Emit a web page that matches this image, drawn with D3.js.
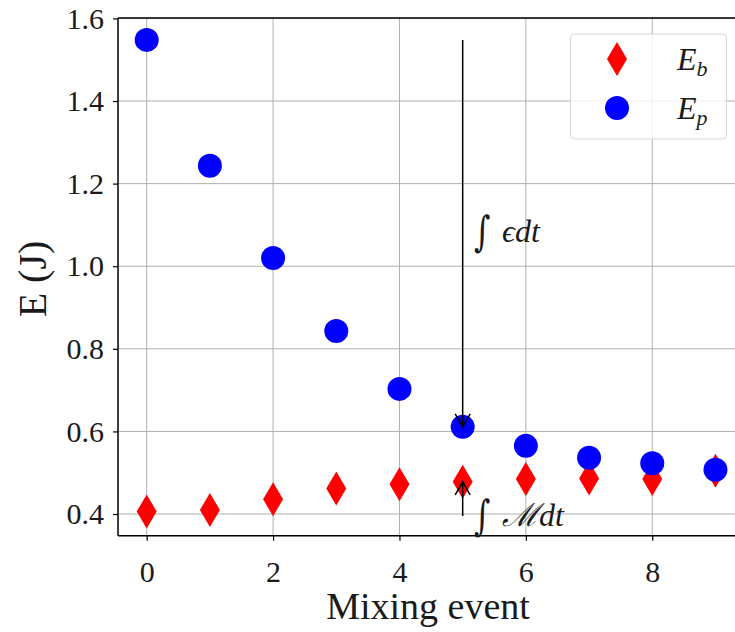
<!DOCTYPE html>
<html>
<head>
<meta charset="utf-8">
<script src="https://cdn.jsdelivr.net/npm/d3@7"></script>
<style>
  html, body { margin: 0; padding: 0; background: #fff; overflow: hidden; }
  svg { display: block; }
  text { font-family: "Liberation Serif", "DejaVu Serif", serif; fill: #1a1a1a; }
</style>
</head>
<body>
<svg id="chart" width="735" height="632"></svg>
<script>
// ---- data ----
const events = [0, 1, 2, 3, 4, 5, 6, 7, 8, 9];
const Eb = [0.406, 0.410, 0.436, 0.462, 0.472, 0.478, 0.485, 0.486, 0.485, 0.505];
const Ep = [1.548, 1.243, 1.020, 0.843, 0.703, 0.611, 0.565, 0.536, 0.523, 0.507];
const xTicks = [0, 2, 4, 6, 8];
const yTicks = [0.4, 0.6, 0.8, 1.0, 1.2, 1.4, 1.6];
const arrowEvent = 5;

// ---- layout ----
const plotL = 118, plotT = 18, plotB = 535.7, plotR = 743.9;
const svg = d3.select("#chart");

const x = d3.scaleLinear().domain([-0.454, 9.45]).range([plotL, plotR]);
const y = d3.scaleLinear().domain([0.3475, 1.601]).range([plotB, plotT]);

// grid
const grid = svg.append("g").attr("stroke", "#b0b0b0").attr("stroke-width", 1);
xTicks.forEach(t => grid.append("line")
  .attr("x1", x(t)).attr("x2", x(t)).attr("y1", plotT).attr("y2", plotB));
yTicks.forEach(t => grid.append("line")
  .attr("x1", plotL).attr("x2", plotR).attr("y1", y(t)).attr("y2", y(t)));

// axes
const xAxis = d3.axisBottom(x).tickValues(xTicks).tickSize(5).tickPadding(20)
  .tickFormat(d3.format("d"));
const yAxis = d3.axisLeft(y).tickValues(yTicks).tickSize(5).tickPadding(9)
  .tickFormat(d3.format(".1f"));

const gx = svg.append("g").attr("transform", `translate(0,${plotB})`).call(xAxis);
const gy = svg.append("g").attr("transform", `translate(${plotL},0)`).call(yAxis);
[gx, gy].forEach(g => {
  g.select(".domain").remove();
  g.selectAll(".tick line").attr("stroke", "#000").attr("stroke-width", 1.2);
  g.selectAll(".tick text").style("font-family", "Liberation Serif, serif")
    .style("font-size", "30px").attr("fill", "#2a2a2a");
});

// spines
const sp = svg.append("g").attr("stroke", "#000").attr("stroke-width", 1.5).attr("fill", "none");
sp.append("line").attr("x1", plotL).attr("x2", plotL).attr("y1", plotT).attr("y2", plotB);
sp.append("line").attr("x1", plotL).attr("x2", plotR).attr("y1", plotB).attr("y2", plotB);
sp.append("line").attr("x1", plotL).attr("x2", plotR).attr("y1", plotT).attr("y2", plotT);
sp.append("line").attr("x1", plotR).attr("x2", plotR).attr("y1", plotT).attr("y2", plotB);

// markers
const diamond = (cx, cy, hw, hh) =>
  `M${cx},${cy - hh}L${cx + hw},${cy}L${cx},${cy + hh}L${cx - hw},${cy}Z`;

svg.append("g").selectAll("path").data(events).join("path")
  .attr("d", (d, i) => diamond(x(d), y(Eb[i]), 10, 17))
  .attr("fill", "#ff0000");

svg.append("g").selectAll("circle").data(events).join("circle")
  .attr("cx", d => x(d)).attr("cy", (d, i) => y(Ep[i])).attr("r", 12)
  .attr("fill", "#0000ff");

// annotation arrows
function arrow(x0, y0, x1, y1) {
  const g = svg.append("g").attr("stroke", "#000").attr("stroke-width", 1.5).attr("fill", "none");
  g.append("line").attr("x1", x0).attr("y1", y0).attr("x2", x1).attr("y2", y1);
  const dir = Math.sign(y1 - y0);
  g.append("path").attr("d",
    `M${x1 - 7.5},${y1 - dir * 13}L${x1},${y1}L${x1 + 7.5},${y1 - dir * 13}`);
}
const ax = x(arrowEvent);
arrow(ax, y(Ep[0]), ax, y(Ep[arrowEvent]));
arrow(ax, y(0.395), ax, y(Eb[arrowEvent]));

// annotation texts
function mathLabel(x0, yb, body) {
  const g = svg.append("g");
  g.append("text").attr("x", x0).attr("y", yb + 4)
    .style("font-size", "42px").style("font-family", "DejaVu Serif, serif")
    .attr("transform", `translate(${x0},${yb}) scale(0.75,1) translate(${-x0},${-yb})`)
    .text("∫");
  g.append("text").attr("x", x0 + 28).attr("y", yb)
    .style("font-size", "32px").style("font-style", "italic").text(body);
}
mathLabel(474, 242, "ϵdt");
mathLabel(474, 526, "ℳdt");

// legend
const lg = svg.append("g");
lg.append("rect").attr("x", 570.5).attr("y", 34).attr("width", 156).attr("height", 105)
  .attr("rx", 4).attr("fill", "#fff").attr("fill-opacity", 0.8)
  .attr("stroke", "#d6d6d6").attr("stroke-width", 1);
lg.append("path").attr("d", diamond(617, 59, 10, 17)).attr("fill", "#ff0000");
lg.append("circle").attr("cx", 617).attr("cy", 108).attr("r", 12).attr("fill", "#0000ff");
const labels = [["b", 70], ["p", 119]];
labels.forEach(([s, yy]) => {
  const t = lg.append("text").attr("x", 677).attr("y", yy)
    .style("font-size", "32px").style("font-style", "italic");
  t.append("tspan").text("E");
  t.append("tspan").attr("dy", 6).style("font-size", "22px").text(s);
});

// axis titles
svg.append("text").attr("x", 428).attr("y", 619).attr("text-anchor", "middle")
  .style("font-size", "38px").text("Mixing event");
svg.append("text").attr("transform", `translate(46,279) rotate(-90)`)
  .attr("text-anchor", "middle").style("font-size", "40px").text("E (J)");
</script>
</body>
</html>
